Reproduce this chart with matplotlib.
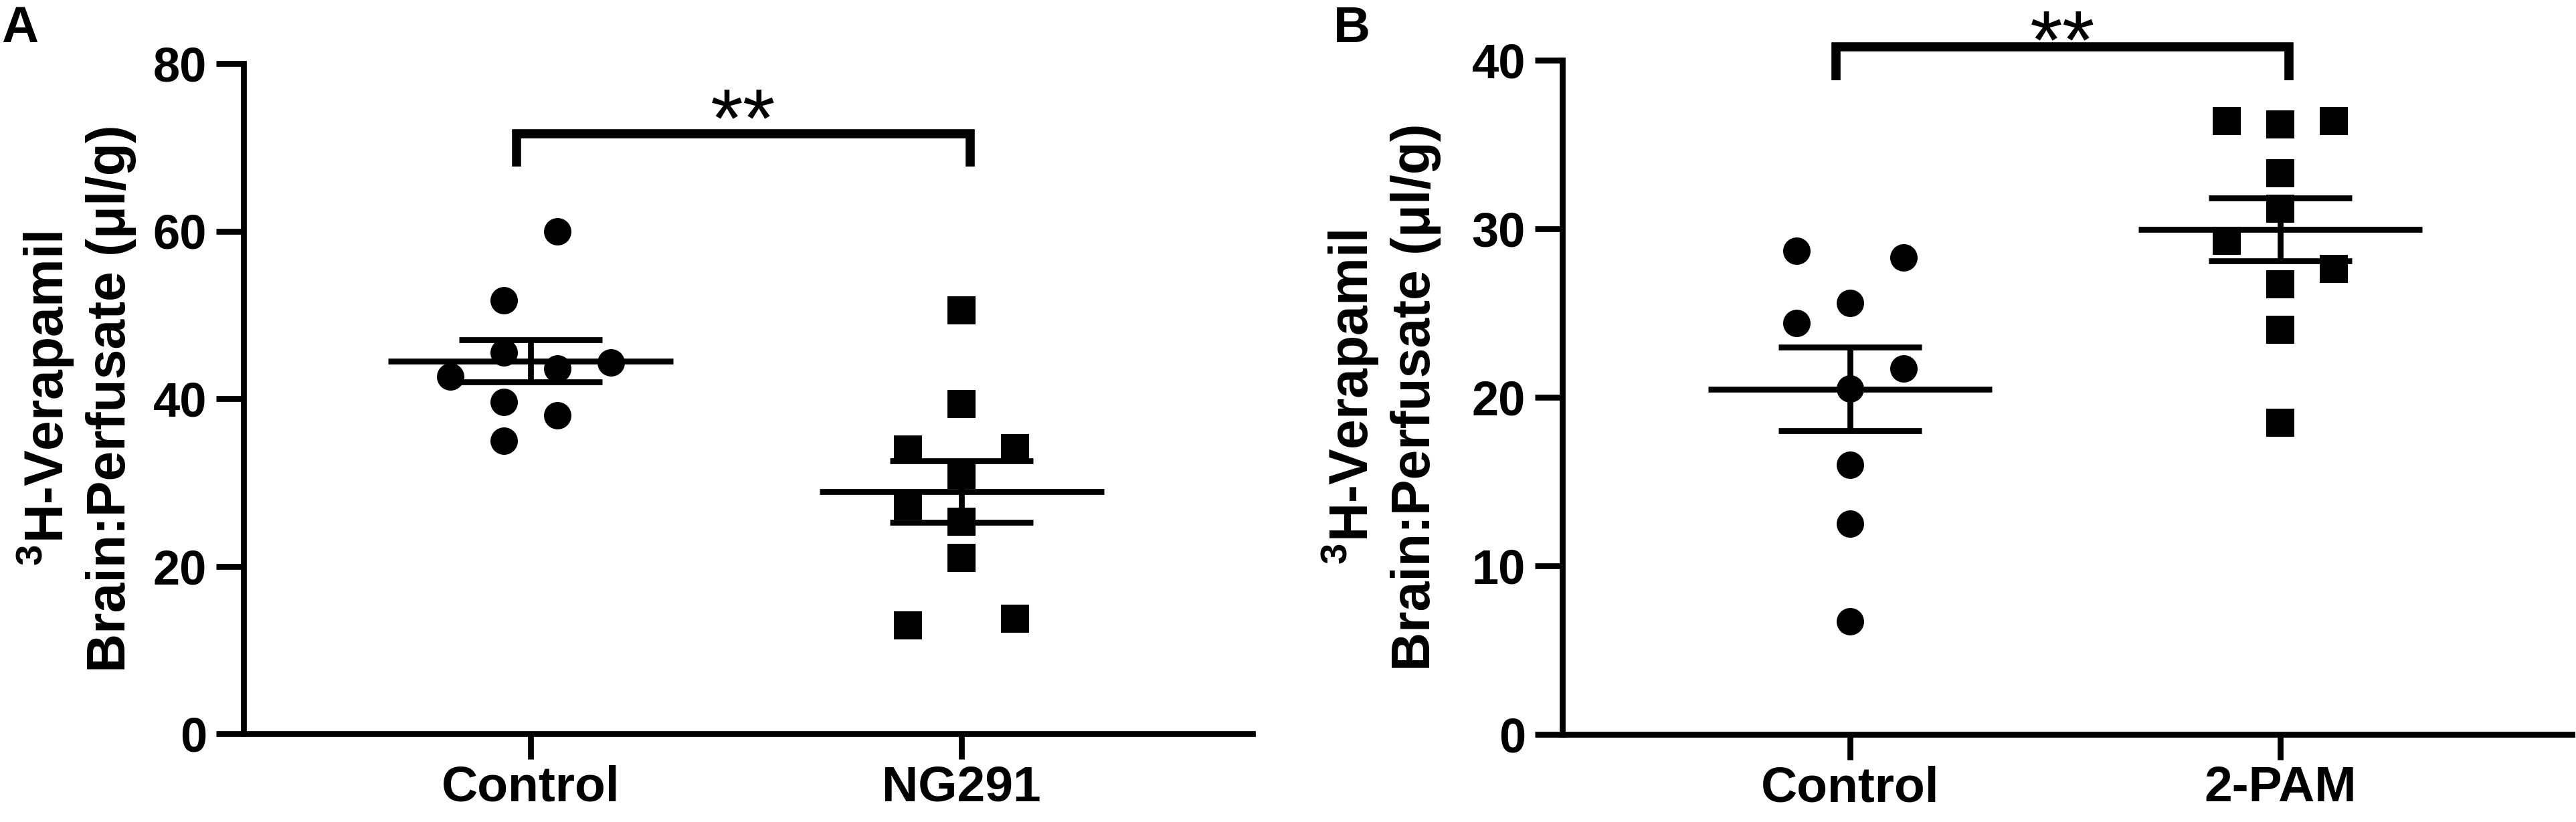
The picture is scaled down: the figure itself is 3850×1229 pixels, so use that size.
import numpy as np
import matplotlib
matplotlib.use('Agg')
import matplotlib.pyplot as plt
from matplotlib.transforms import offset_copy

plt.rcParams['font.family'] = ['Liberation Sans', 'DejaVu Sans']
plt.rcParams['font.weight'] = 'bold'
plt.rcParams['mathtext.fontset'] = 'custom'
plt.rcParams['mathtext.rm'] = 'Liberation Sans:bold'
plt.rcParams['mathtext.bf'] = 'Liberation Sans:bold'
plt.rcParams['mathtext.it'] = 'Liberation Sans:bold'
plt.rcParams['mathtext.default'] = 'bf'

# ---------------- data ----------------
a_categories = ['Control', 'NG291']
a_control = [60.0, 51.7, 45.5, 44.3, 43.6, 42.6, 39.6, 38.0, 35.0]
a_ng291 = [50.5, 39.4, 33.9, 34.1, 30.9, 27.2, 25.3, 21.0, 12.9, 13.7]
a_yticks = [0, 20, 40, 60, 80]

b_categories = ['Control', '2-PAM']
b_control = [28.7, 28.3, 25.6, 24.4, 21.7, 20.5, 16.0, 12.5, 6.7]
b_2pam = [36.4, 36.2, 36.4, 33.3, 31.2, 29.3, 27.6, 26.7, 24.0, 18.5]
b_yticks = [0, 10, 20, 30, 40]

ylabel_text = r'$^{3}$H-Verapamil' + '\nBrain:Perfusate (μl/g)'
significance = '**'
panel_letters = ['A', 'B']

# ---------------- layout (scatter column offsets, in category units) ----------------
a_control_dx = [0.062, -0.062, -0.062, 0.186, 0.062, -0.186, -0.062, 0.062, -0.062]
a_ng291_dx = [0, 0, -0.124, 0.124, 0, -0.124, 0, 0, -0.124, 0.124]
b_control_dx = [-0.124, 0.124, 0, -0.124, 0.124, 0, 0, 0, 0]
b_2pam_dx = [-0.124, 0, 0.124, 0, 0, -0.124, 0.124, 0, 0, 0]

W, H = 3850, 1229
DPI = 100
fig = plt.figure(figsize=(W / DPI, H / DPI), dpi=DPI)

LW = 6.3          # axis / mean / error bar line width (pt)
BR_LW = 9.8       # bracket line width


def panel(rect_px, cats, groups, dxs, markers, yticks, xlim,
          bracket_top, bracket_leg, star_y, ylabel_dx, letter, letter_xy):
    l, t, r, b = rect_px
    ax = fig.add_axes([l / W, 1 - b / H, (r - l) / W, (b - t) / H])
    ax.set_xlim(*xlim)
    ax.set_ylim(yticks[0], yticks[-1])
    for s in ['top', 'right']:
        ax.spines[s].set_visible(False)
    for s in ['left', 'bottom']:
        ax.spines[s].set_linewidth(LW)
    ax.set_yticks(yticks)
    ax.set_yticklabels([str(v) for v in yticks])
    ax.set_xticks(range(len(cats)))
    ax.set_xticklabels(cats)
    ax.tick_params(axis='y', length=29.5, width=LW, pad=10, labelsize=52)
    ax.tick_params(axis='x', length=27.4, width=LW, pad=6, labelsize=54)

    for i, (vals, dx, mk) in enumerate(zip(groups, dxs, markers)):
        vals = np.asarray(vals)
        xs = i + np.asarray(dx)
        ms = 29.5 if mk == 'o' else 30
        ax.plot(xs, vals, linestyle='none', marker=mk, ms=ms, color='black',
                mew=0, clip_on=False, zorder=3)
        m = vals.mean()
        se = vals.std(ddof=1) / np.sqrt(len(vals))
        ax.plot([i - 0.33, i + 0.33], [m, m], color='black', lw=LW,
                solid_capstyle='butt', zorder=4)
        ax.plot([i, i], [m - se, m + se], color='black', lw=LW,
                solid_capstyle='butt', zorder=4)
        for yy in (m - se, m + se):
            ax.plot([i - 0.166, i + 0.166], [yy, yy], color='black', lw=LW,
                    solid_capstyle='butt', zorder=4)

    x0, x1 = -0.033, 1.02
    ax.plot([x0, x0, x1, x1], [bracket_leg, bracket_top, bracket_top, bracket_leg],
            color='black', lw=BR_LW, solid_joinstyle='miter',
            solid_capstyle='butt', clip_on=False)
    ax.text((x0 + x1) / 2, star_y, significance, ha='center', va='baseline',
            fontsize=90, fontweight='normal', clip_on=False)

    trans = offset_copy(ax.transAxes, fig=fig, x=ylabel_dx, y=0, units='dots')
    ax.text(0, 0.5, ylabel_text, transform=trans, rotation=90, ha='center',
            va='center', fontsize=58, linespacing=1.25, multialignment='center')

    fig.text(letter_xy[0] / W, 1 - letter_xy[1] / H, letter, fontsize=55,
             fontweight='bold', ha='left', va='baseline')
    return ax


panel((364, 95, 1872, 1097), a_categories, [a_control, a_ng291],
      [a_control_dx, a_ng291_dx], ['o', 's'], a_yticks, (-0.666, 1.675),
      71.6, 67.7, 70.1, -251, panel_letters[0], (2, 63))

panel((2335, 90, 3844, 1098), b_categories, [b_control, b_2pam],
      [b_control_dx, b_2pam_dx], ['o', 's'], b_yticks, (-0.669, 1.678),
      40.8, 38.8, 39.5, -272, panel_letters[1], (1993, 63))

fig.savefig('out.png', dpi=DPI, facecolor='white')
